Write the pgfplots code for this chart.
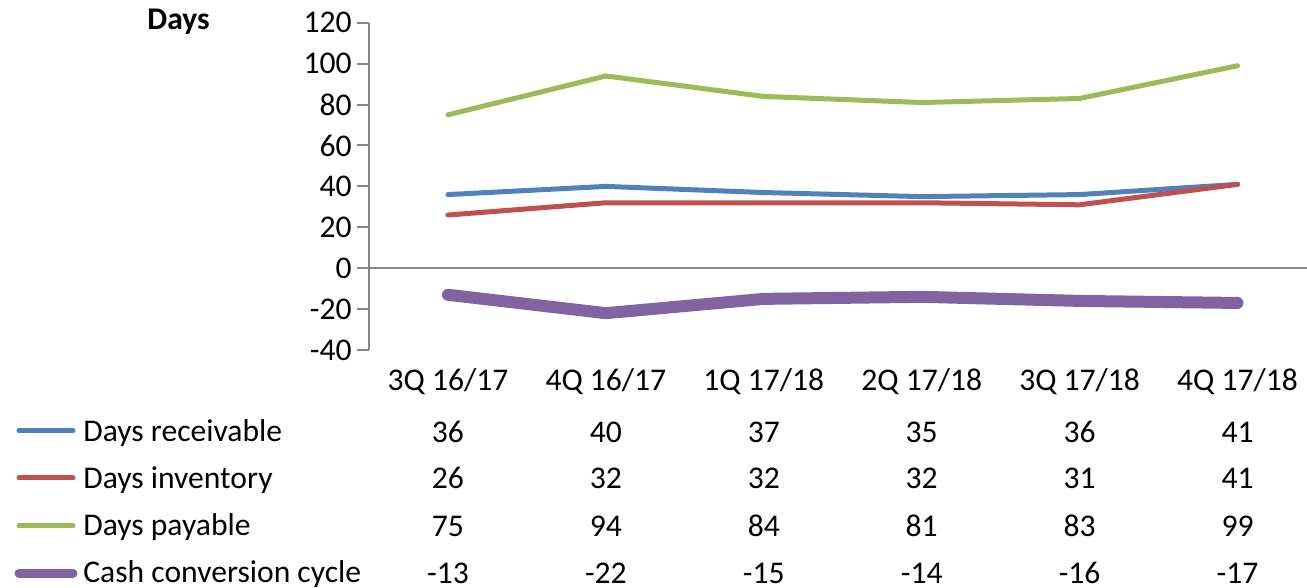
\documentclass[border=0pt]{standalone}
\usepackage{pgfplots}
\pgfplotsset{compat=1.18}
\usepackage{pgfplotstable}
\usepackage{fontspec}
\setmainfont{Carlito}
\definecolor{cblue}{HTML}{4F81BD}
\definecolor{cred}{HTML}{C0504D}
\definecolor{cgreen}{HTML}{9BBB59}
\definecolor{cpurple}{HTML}{8064A2}
\definecolor{axgray}{HTML}{868686}
\pgfplotstableread{
x R I P C
0 36 26 75 -13
1 40 32 94 -22
2 37 32 84 -15
3 35 32 81 -14
4 36 31 83 -16
5 41 41 99 -17
}\datatable
\begin{document}
\begin{tikzpicture}[font=\fontsize{15.8}{18}\selectfont]
\begin{axis}[
  at={(0,0)}, anchor=south west,
  scale only axis, width=469pt, height=163.6pt,
  xmin=-0.5, xmax=5.44, ymin=-40, ymax=120,
  ytick={-40,-20,...,120}, xtick=\empty,
  axis y line*=left, axis x line*=bottom,
  x axis line style={draw=none},
  y axis line style={axgray, line width=1pt},
  ytick style={axgray, line width=1pt},
  tick align=outside, major tick length=6pt,
  ytick pos=left,
  /pgf/number format/assume math mode=true,
  yticklabel style={font=\fontsize{15.8}{18}\selectfont, inner sep=2.5pt},
  clip=false,
]
\draw[axgray, line width=1pt] (axis cs:-0.5,0) -- (axis cs:5.44,0);
\addplot[cblue, line width=2.5pt, line cap=round, line join=round] table[x=x,y=R]{\datatable};
\addplot[cred, line width=2.5pt, line cap=round, line join=round] table[x=x,y=I]{\datatable};
\addplot[cgreen, line width=2.5pt, line cap=round, line join=round] table[x=x,y=P]{\datatable};
\addplot[cpurple, line width=6pt, line cap=round, line join=round] table[x=x,y=C]{\datatable};
% category labels
\node[anchor=base] at ([yshift=-20pt]axis cs:0,-40) {3Q 16/17};
\node[anchor=base] at ([yshift=-20pt]axis cs:1,-40) {4Q 16/17};
\node[anchor=base] at ([yshift=-20pt]axis cs:2,-40) {1Q 17/18};
\node[anchor=base] at ([yshift=-20pt]axis cs:3,-40) {2Q 17/18};
\node[anchor=base] at ([yshift=-20pt]axis cs:4,-40) {3Q 17/18};
\node[anchor=base] at ([yshift=-20pt]axis cs:5,-40) {4Q 17/18};
% data table
\node[anchor=base] at ([yshift=-46pt]axis cs:0,-40) {36};
\node[anchor=base] at ([yshift=-46pt]axis cs:1,-40) {40};
\node[anchor=base] at ([yshift=-46pt]axis cs:2,-40) {37};
\node[anchor=base] at ([yshift=-46pt]axis cs:3,-40) {35};
\node[anchor=base] at ([yshift=-46pt]axis cs:4,-40) {36};
\node[anchor=base] at ([yshift=-46pt]axis cs:5,-40) {41};
\node[anchor=base] at ([yshift=-69.5pt]axis cs:0,-40) {26};
\node[anchor=base] at ([yshift=-69.5pt]axis cs:1,-40) {32};
\node[anchor=base] at ([yshift=-69.5pt]axis cs:2,-40) {32};
\node[anchor=base] at ([yshift=-69.5pt]axis cs:3,-40) {32};
\node[anchor=base] at ([yshift=-69.5pt]axis cs:4,-40) {31};
\node[anchor=base] at ([yshift=-69.5pt]axis cs:5,-40) {41};
\node[anchor=base] at ([yshift=-93pt]axis cs:0,-40) {75};
\node[anchor=base] at ([yshift=-93pt]axis cs:1,-40) {94};
\node[anchor=base] at ([yshift=-93pt]axis cs:2,-40) {84};
\node[anchor=base] at ([yshift=-93pt]axis cs:3,-40) {81};
\node[anchor=base] at ([yshift=-93pt]axis cs:4,-40) {83};
\node[anchor=base] at ([yshift=-93pt]axis cs:5,-40) {99};
\node[anchor=base] at ([yshift=-116.5pt]axis cs:0,-40) {-13};
\node[anchor=base] at ([yshift=-116.5pt]axis cs:1,-40) {-22};
\node[anchor=base] at ([yshift=-116.5pt]axis cs:2,-40) {-15};
\node[anchor=base] at ([yshift=-116.5pt]axis cs:3,-40) {-14};
\node[anchor=base] at ([yshift=-116.5pt]axis cs:4,-40) {-16};
\node[anchor=base] at ([yshift=-116.5pt]axis cs:5,-40) {-17};
\end{axis}
% legend keys
\draw[cblue, line width=2.5pt, line cap=round] (-175pt,-40.3pt) -- (-148pt,-40.3pt);
\draw[cred, line width=2.5pt, line cap=round] (-175pt,-64pt) -- (-148pt,-64pt);
\draw[cgreen, line width=2.5pt, line cap=round] (-175pt,-87.8pt) -- (-148pt,-87.8pt);
\draw[cpurple, line width=4.5pt, line cap=round] (-175pt,-111.6pt) -- (-148pt,-111.6pt);
\node[anchor=base west, inner sep=0pt] at (-143pt,-46pt) {Days receivable};
\node[anchor=base west, inner sep=0pt] at (-143pt,-69.5pt) {Days inventory};
\node[anchor=base west, inner sep=0pt] at (-143pt,-93pt) {Days payable};
\node[anchor=base west, inner sep=0pt] at (-143pt,-116.5pt) {Cash conversion cycle};
\node[anchor=base west, inner sep=0pt, font=\fontsize{15.8}{18}\selectfont\bfseries] at (-111pt,160pt) {Days};
\pgfresetboundingbox
\path[use as bounding box] (-184.5pt,-119pt) rectangle (469pt,175pt);
\end{tikzpicture}
\end{document}
